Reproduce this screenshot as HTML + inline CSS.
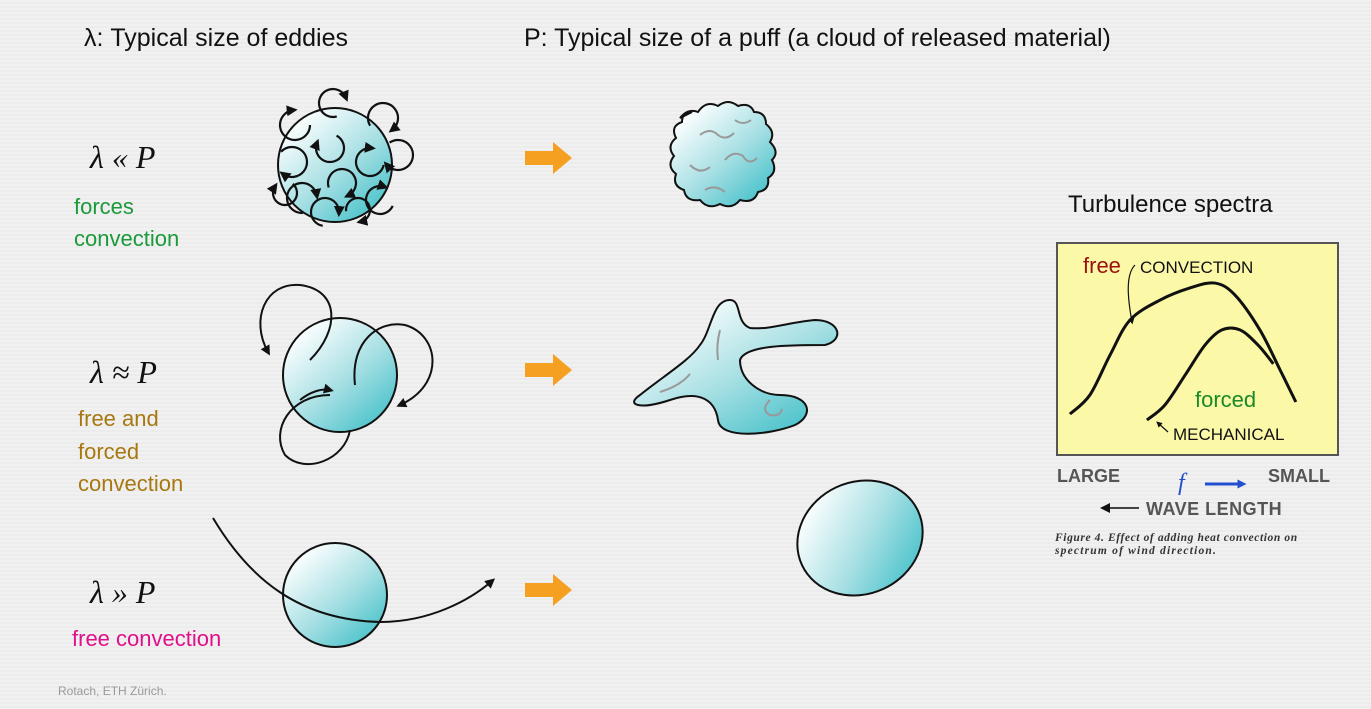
<!DOCTYPE html>
<html><head><meta charset="utf-8"><style>
html,body{margin:0;padding:0;background:#efefef;}
svg{display:block;font-family:"Liberation Sans",sans-serif;}
</style></head><body>
<svg width="1371" height="709" viewBox="0 0 1371 709">
<defs>
<linearGradient id="sph" x1="0.15" y1="0.1" x2="0.85" y2="0.9">
<stop offset="0" stop-color="#ffffff"/><stop offset="0.55" stop-color="#a8e0e4"/><stop offset="1" stop-color="#4fc4cc"/></linearGradient>
<marker id="ah" viewBox="0 0 10 10" refX="6" refY="5" markerWidth="5" markerHeight="5" orient="auto"><path d="M0,0L10,5L0,10z" fill="#111"/></marker>
<marker id="ahb" viewBox="0 0 10 10" refX="5" refY="5" markerWidth="3" markerHeight="3" orient="auto"><path d="M0,0L10,5L0,10z" fill="#2050d0"/></marker>
<pattern id="stripes" width="4" height="4" patternUnits="userSpaceOnUse"><rect width="4" height="2" fill="#f1f1f1"/><rect y="2" width="4" height="2" fill="#ececec"/></pattern>
</defs>
<rect width="1371" height="709" fill="url(#stripes)"/>

<text x="84" y="46" font-size="25" fill="#111">λ: Typical size of eddies</text>
<text x="524" y="46" font-size="25" fill="#111">P: Typical size of a puff (a cloud of released material)</text>

<g font-family="'Liberation Serif',serif" font-style="italic" font-size="32" fill="#111">
<text x="90" y="168">λ « P</text>
<text x="90" y="383">λ ≈ P</text>
<text x="90" y="603">λ » P</text>
</g>
<g font-size="22">
<text x="74" y="214" fill="#1a9a3a">forces</text>
<text x="74" y="246" fill="#1a9a3a">convection</text>
<text x="78" y="426" fill="#a87810">free and</text>
<text x="78" y="459" fill="#a87810">forced</text>
<text x="78" y="491" fill="#a87810">convection</text>
<text x="72" y="646" fill="#e0108a">free convection</text>
</g>
<text x="58" y="695" font-size="12" fill="#999">Rotach, ETH Zürich.</text>

<circle cx="335" cy="165" r="57" fill="url(#sph)" stroke="#111" stroke-width="2"/>
<g id="eddies1" fill="none" stroke="#111" stroke-width="2.2"></g>

<circle cx="340" cy="375" r="57" fill="url(#sph)" stroke="#111" stroke-width="2"/>
<g fill="none" stroke="#111" stroke-width="2">
<path d="M310,360 C340,330 340,290 300,285 C265,282 250,320 268,352" marker-end="url(#ah)"/>
<path d="M355,385 C350,340 380,320 405,325 C440,335 445,385 400,405" marker-end="url(#ah)"/>
<path d="M330,395 C290,395 270,430 285,455 C305,475 345,460 350,430" />
<path d="M300,400 C310,392 322,388 330,390" marker-end="url(#ah)"/>
</g>

<circle cx="335" cy="595" r="52" fill="url(#sph)" stroke="#111" stroke-width="2"/>
<path d="M213,518 C250,580 300,620 380,622 C430,622 470,600 492,581" fill="none" stroke="#111" stroke-width="2" marker-end="url(#ah)"/>

<g fill="#f5a020">
<path d="M525,151h28v-9l19,16l-19,16v-9h-28z"/>
<path d="M525,363h28v-9l19,16l-19,16v-9h-28z"/>
<path d="M525,583h28v-9l19,16l-19,16v-9h-28z"/>
</g>

<path d="M680,118 q8,-10 18,-6 q8,-12 20,-6 q10,-8 20,0 q12,-4 16,6 q12,0 12,12 q10,8 4,18 q10,10 2,18 q6,12 -4,18 q2,12 -10,14 q-4,12 -18,8 q-8,10 -20,4 q-12,6 -20,-4 q-14,2 -16,-10 q-12,-4 -8,-16 q-10,-8 -2,-18 q-8,-10 2,-18 q-6,-12 6,-16 q0,-10 10,-10z" fill="url(#sph)" stroke="#111" stroke-width="2"/>
<g fill="none" stroke="#999" stroke-width="2">
<path d="M700,135 q10,-8 18,0 q8,6 16,-2"/><path d="M690,165 q10,10 20,2"/><path d="M725,160 q8,-10 18,-4 q6,10 14,2"/><path d="M705,190 q10,-6 20,2"/><path d="M735,120 q8,6 16,0"/>
</g>
<path d="M640,395 C625,405 640,410 670,400 C700,390 715,400 718,420 C720,440 770,435 795,425 C815,415 810,395 780,395 C760,395 740,380 740,360 C745,345 790,345 825,345 C845,340 840,320 815,320 C790,322 770,330 750,328 C735,322 742,300 730,300 C712,300 712,330 700,345 C690,360 665,375 640,395z" fill="url(#sph)" stroke="#111" stroke-width="2"/>
<g fill="none" stroke="#999" stroke-width="2"><path d="M660,392 q20,-6 30,-18"/><path d="M720,330 q-4,15 -2,30"/><path d="M770,400 q-10,10 0,15 q10,2 12,-6"/></g>
<ellipse cx="860" cy="538" rx="64" ry="56" transform="rotate(-25 860 538)" fill="url(#sph)" stroke="#111" stroke-width="2"/>

<text x="1068" y="212" font-size="24" fill="#111">Turbulence spectra</text>
<rect x="1057" y="243" width="281" height="212" fill="#fbf8a8" stroke="#555" stroke-width="2"/>
<g id="curves"></g>
<text x="1083" y="273" font-size="22" fill="#9b1010">free</text>
<text x="1140" y="273" font-size="17" fill="#111">CONVECTION</text>
<path d="M1135,265 C1125,275 1128,300 1132,322" fill="none" stroke="#111" stroke-width="1.2" marker-end="url(#ah)"/>
<text x="1195" y="407" font-size="22" fill="#1a8a2a">forced</text>
<text x="1173" y="440" font-size="17" fill="#111">MECHANICAL</text>
<path d="M1168,432 L1158,423" fill="none" stroke="#111" stroke-width="1.2" marker-end="url(#ah)"/>
<text x="1057" y="482" font-size="18" font-weight="bold" fill="#555">LARGE</text>
<text x="1268" y="482" font-size="18" font-weight="bold" fill="#555">SMALL</text>
<text x="1178" y="490" font-size="24" font-style="italic" fill="#2050d0" font-family="'Liberation Serif',serif">f</text>
<path d="M1205,484 H1242" stroke="#2050d0" stroke-width="3" marker-end="url(#ahb)"/>
<path d="M1105,508 H1140" stroke="#444" stroke-width="2" marker-end="url(#ah)" transform="rotate(180 1122 508)"/>
<text x="1146" y="515" font-size="18" font-weight="bold" fill="#555" letter-spacing="0.5">WAVE  LENGTH</text>
<text x="1055" y="541" font-size="11.5" font-weight="bold" font-style="italic" font-family="'Liberation Serif',serif" fill="#333" letter-spacing="0.6">Figure 4.  Effect of adding heat convection on</text>
<text x="1055" y="554" font-size="11.5" font-weight="bold" font-style="italic" font-family="'Liberation Serif',serif" fill="#333" letter-spacing="1.2">spectrum  of  wind direction.</text>
</svg>
<script>
const freeX=[0.46,1.17,1.89,2.6,3.67,4.73,5.62,6.33,7.22,7.94,8.5];
const freeY=[1.93,2.83,4.72,6.37,7.31,7.88,8.11,7.55,5.9,4.01,2.5];
const forcedX=[3.2,3.84,4.56,5.27,5.87,6.51,7.15,7.7];
const forcedY=[1.65,2.36,3.77,5.19,5.9,5.9,5.19,4.3];
function sx(v){return 1057+v*28.1;}
function sy(v){return 455-v*21.2;}
function pathOf(xs,ys){
  let p=xs.map((x,i)=>[sx(x),sy(ys[i])]);
  let d='M'+p[0][0]+','+p[0][1];
  for(let i=1;i<p.length;i++){
    const p0=p[Math.max(0,i-2)],p1=p[i-1],p2=p[i],p3=p[Math.min(p.length-1,i+1)];
    d+=' C'+(p1[0]+(p2[0]-p0[0])/6)+','+(p1[1]+(p2[1]-p0[1])/6)+' '+(p2[0]-(p3[0]-p1[0])/6)+','+(p2[1]-(p3[1]-p1[1])/6)+' '+p2[0]+','+p2[1];
  }
  return d;
}
const g=document.getElementById('curves');
[[freeX,freeY,'free-convection-curve'],[forcedX,forcedY,'forced-convection-curve']].forEach(s=>{
  const el=document.createElementNS('http://www.w3.org/2000/svg','path');
  el.setAttribute('d',pathOf(s[0],s[1]));
  el.setAttribute('fill','none');el.setAttribute('stroke','#111');el.setAttribute('stroke-width','3');
  
  
  g.appendChild(el);
});
const eg=document.getElementById('eddies1');
const ed=[[295,125,15,0],[333,103,14,1],[383,118,15,2],[292,162,15,3],[330,148,14,4],[370,162,14,5],[302,198,15,6],[342,183,14,7],[398,155,15,8],[285,193,12,9],[380,200,14,10],[325,212,14,11],[358,210,12,12]];
ed.forEach(e=>{
  const [cx,cy,r,k]=e;const a0=k*1.3,a1=a0+4.6;
  const el=document.createElementNS('http://www.w3.org/2000/svg','path');
  el.setAttribute('d','M'+(cx+r*Math.cos(a0))+','+(cy+r*Math.sin(a0))+' A'+r+','+r+' 0 1 1 '+(cx+r*Math.cos(a1))+','+(cy+r*Math.sin(a1)));
  el.setAttribute('marker-end','url(#ah)');
  
  
  eg.appendChild(el);
});
</script>
</body></html>
